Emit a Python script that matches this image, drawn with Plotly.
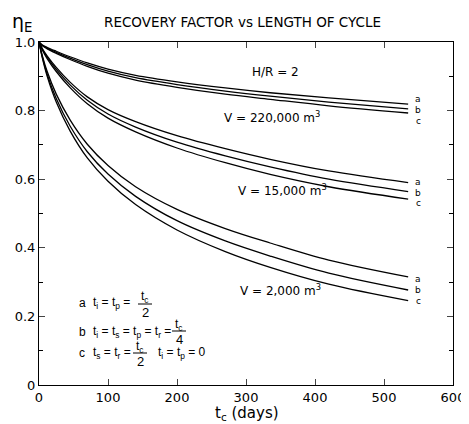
import plotly.graph_objects as go

# ---- data ----
t_days = [0, 5, 12, 25, 45, 70, 100, 140, 200, 270, 335, 420, 535]

v220k_a = [1.0, 0.991, 0.984, 0.973, 0.957, 0.939, 0.921, 0.903, 0.884, 0.866, 0.852, 0.837, 0.819]
v220k_b = [1.0, 0.990, 0.982, 0.970, 0.953, 0.934, 0.915, 0.896, 0.876, 0.857, 0.842, 0.825, 0.805]
v220k_c = [1.0, 0.989, 0.980, 0.967, 0.949, 0.929, 0.909, 0.889, 0.868, 0.848, 0.833, 0.814, 0.793]

v15k_a = [1.0, 0.980, 0.959, 0.926, 0.883, 0.840, 0.803, 0.768, 0.727, 0.689, 0.658, 0.624, 0.590]
v15k_b = [1.0, 0.978, 0.955, 0.920, 0.875, 0.830, 0.790, 0.752, 0.708, 0.668, 0.636, 0.600, 0.564]
v15k_c = [1.0, 0.976, 0.951, 0.914, 0.867, 0.820, 0.778, 0.738, 0.691, 0.648, 0.614, 0.578, 0.542]

v2k_a = [1.0, 0.959, 0.913, 0.848, 0.773, 0.702, 0.640, 0.578, 0.512, 0.456, 0.414, 0.364, 0.315]
v2k_b = [1.0, 0.955, 0.905, 0.835, 0.755, 0.680, 0.615, 0.550, 0.479, 0.420, 0.376, 0.326, 0.277]
v2k_c = [1.0, 0.952, 0.899, 0.825, 0.741, 0.662, 0.594, 0.526, 0.452, 0.389, 0.343, 0.294, 0.246]

series = [v220k_a, v220k_b, v220k_c, v15k_a, v15k_b, v15k_c, v2k_a, v2k_b, v2k_c]
curve_letters = ["a", "b", "c"] * 3

x_ticks = [0, 100, 200, 300, 400, 500, 600]
y_ticks = [0, 0.2, 0.4, 0.6, 0.8, 1.0]
y_tick_text = ["0", "0.2", "0.4", "0.6", "0.8", "1.0"]

FONT = "DejaVu Sans"
LFONT = "Liberation Sans"

# The page body has an 8px default margin; the figure is sized and the
# plot area placed so that it lands where the reference's is.
PAGE_W, PAGE_H, BODY = 469, 424, 8
FIG_W, FIG_H = PAGE_W - BODY, PAGE_H - BODY
L, T, W, H = 39, 42, 414, 343          # plot area in reference screen pixels
XMAX, YMAX = 600, 1.0

def P(px, py):
    return (px - L) / W * XMAX, (T + H - py) / H * YMAX

def paper(px, py):
    return (px - L) / W, (T + H - py) / H

fig = go.Figure()
for ys in series:
    fig.add_trace(go.Scatter(x=t_days, y=ys, mode="lines",
                             line=dict(color="black", width=1.3, shape="spline", smoothing=1.0),
                             showlegend=False, hoverinfo="skip"))

ann = []
def text(px, py, s, size=12, anchor="center", family=FONT):
    x, y = P(px, py)
    ann.append(dict(x=x, y=y, xref="x", yref="y", text=s, showarrow=False,
                    font=dict(family=family, size=size, color="black"),
                    xanchor=anchor, yanchor="middle"))

# curve end letters
end_y_px = [99, 110, 121, 182, 193, 203, 279, 290, 301]
for lt, py in zip(curve_letters, end_y_px):
    text(418, py, lt, size=9)

text(275, 72, "H/R = 2", 12)
text(272, 117, "V = 220,000 m<sup>3</sup>", 12)
text(282, 190, "V = 15,000 m<sup>3</sup>", 12)
text(280, 290, "V = 2,000 m<sup>3</sup>", 12)

shapes = []
def frac(cx, py_num, py_bar, py_den, num, den, half=7):
    text(cx, py_num, num, 12, family=LFONT)
    text(cx, py_den, den, 13, family=LFONT)
    x0, y0 = P(cx - half, py_bar)
    x1, _ = P(cx + half, py_bar)
    shapes.append(dict(type="line", xref="x", yref="y", x0=x0, x1=x1, y0=y0, y1=y0,
                       line=dict(color="black", width=1)))

# legend block
text(82, 303, "a", 12, family=LFONT)
text(91, 303, "t<sub>i</sub> = t<sub>p</sub> =", 12, "left", family=LFONT)
frac(145, 297, 304, 312, "t<sub>c</sub>", "2")

text(82, 332, "b", 12, family=LFONT)
text(91, 332, "t<sub>i</sub> = t<sub>s</sub> = t<sub>p</sub> = t<sub>r</sub> =", 12, "left", family=LFONT)
frac(179, 325, 331, 339, "t<sub>c</sub>", "4")

text(82, 353, "c", 12, family=LFONT)
text(91, 353, "t<sub>s</sub> = t<sub>r</sub> =", 12, "left", family=LFONT)
frac(140, 347, 353, 361, "t<sub>c</sub>", "2")
text(156, 353, "t<sub>i</sub> = t<sub>p</sub> = 0", 12, "left", family=LFONT)

# title, y label and x label
def paper_text(px, py, s, size, anchor="center"):
    x, y = paper(px, py)
    ann.append(dict(x=x, y=y, xref="paper", yref="paper", text=s, showarrow=False,
                    font=dict(family=FONT, size=size, color="black"),
                    xanchor=anchor, yanchor="middle"))

paper_text(242, 22, "RECOVERY FACTOR vs LENGTH OF CYCLE", 13.5)
paper_text(10, 22, "η<sub>E</sub>", 19, "left")
paper_text(247, 413, "t<sub>c</sub> (days)", 15)

ml, mt = L - BODY, T - BODY
fig.update_layout(
    width=FIG_W, height=FIG_H,
    margin=dict(l=ml, r=FIG_W - ml - W, t=mt, b=FIG_H - mt - H, autoexpand=False),
    paper_bgcolor="white", plot_bgcolor="white",
    font=dict(family=FONT, color="black", size=13),
    annotations=ann, shapes=shapes,
    xaxis=dict(range=[0, XMAX], tickvals=x_ticks, ticks="inside", ticklen=6,
               showline=True, linecolor="black", linewidth=1, mirror="ticks",
               showgrid=False, zeroline=False, tickfont=dict(size=13), automargin=False,
               ticklabeloverflow="allow"),
    yaxis=dict(range=[0, YMAX], tickvals=y_ticks, ticktext=y_tick_text, ticks="inside", ticklen=6,
               showline=True, linecolor="black", linewidth=1, mirror="ticks",
               showgrid=False, zeroline=False, tickfont=dict(size=13), automargin=False,
               ticklabeloverflow="allow",
               minor=dict(dtick=0.1, ticks="inside", ticklen=4, tickcolor="black")),
)

fig.write_html("out.html")
